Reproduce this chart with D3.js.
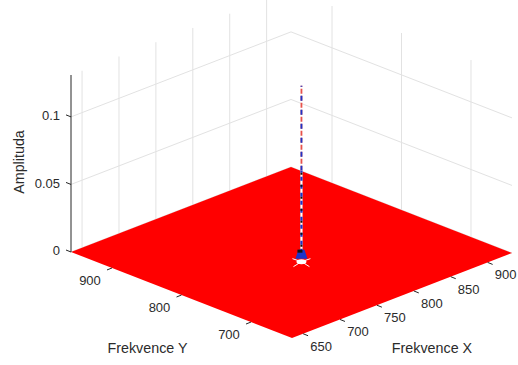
<!DOCTYPE html>
<html>
<head>
<meta charset="utf-8">
<script src="https://cdn.jsdelivr.net/npm/d3@7"></script>
<style>
  body { margin: 0; background: #fff; }
  text { font-family: "Liberation Sans", Arial, sans-serif; fill: #2b2b2b; }
</style>
</head>
<body>
<script>
// axis limits and ticks
const xLim = [635, 933];
const yLim = [641, 959];
const zLim = [0, 0.131];
const xTicks = [650, 700, 750, 800, 850, 900];
const yTicks = [700, 800, 900];
const zTicks = [0, 0.05, 0.1];
const zTickLabels = ['0', '0.05', '0.1'];

// spike of the spectrum
const peakX = [773];
const peakY = [774];
const peakZ = [0.131];

const width = 518;
const height = 365;

// normalized scales
const sx = d3.scaleLinear().domain(xLim).range([0, 1]);
const sy = d3.scaleLinear().domain(yLim).range([0, 1]);
const sz = d3.scaleLinear().domain(zLim).range([0, 177]);

// projection of the view (origin = corner xmin,ymin)
const origin = [292, 338];
const ex = [220, -85];
const ey = [-221, -86];

function P(x, y, z) {
  const u = sx(x), v = sy(y);
  return [origin[0] + u * ex[0] + v * ey[0], origin[1] + u * ex[1] + v * ey[1] - sz(z)];
}

const svg = d3.select('body').append('svg')
  .attr('width', width)
  .attr('height', height);

svg.append('rect').attr('width', width).attr('height', height).attr('fill', 'white');

const grid = svg.append('g')
  .attr('stroke', '#e2e2e2')
  .attr('stroke-width', 1)
  .attr('fill', 'none');

// back walls: vertical grid lines
xTicks.forEach(x => {
  const a = P(x, yLim[1], zLim[0]), b = P(x, yLim[1], zLim[1]);
  grid.append('line').attr('x1', a[0]).attr('y1', a[1]).attr('x2', b[0]).attr('y2', b[1]);
});
yTicks.forEach(y => {
  const a = P(xLim[1], y, zLim[0]), b = P(xLim[1], y, zLim[1]);
  grid.append('line').attr('x1', a[0]).attr('y1', a[1]).attr('x2', b[0]).attr('y2', b[1]);
});
// back walls: horizontal grid lines
zTicks.forEach(z => {
  const pts = [P(xLim[0], yLim[1], z), P(xLim[1], yLim[1], z), P(xLim[1], yLim[0], z)];
  grid.append('path').attr('d', d3.line()(pts));
});

// flat part of the surface
const floor = [P(xLim[0], yLim[0], 0), P(xLim[1], yLim[0], 0), P(xLim[1], yLim[1], 0), P(xLim[0], yLim[1], 0)];
svg.append('path')
  .attr('d', d3.line()(floor) + 'Z')
  .attr('fill', '#ff0000');

// z axis
const za = P(xLim[0], yLim[1], zLim[0]), zb = P(xLim[0], yLim[1], zLim[1]);
svg.append('line')
  .attr('x1', za[0]).attr('y1', za[1]).attr('x2', zb[0]).attr('y2', zb[1])
  .attr('stroke', '#262626').attr('stroke-width', 1);

zTicks.forEach((z, i) => {
  const p = P(xLim[0], yLim[1], z);
  svg.append('line')
    .attr('x1', p[0]).attr('y1', p[1]).attr('x2', p[0] - 5).attr('y2', p[1] - 2)
    .attr('stroke', '#262626');
  svg.append('text')
    .attr('x', p[0] - 11).attr('y', p[1])
    .attr('text-anchor', 'end')
    .attr('dominant-baseline', 'middle')
    .attr('font-size', 13)
    .text(zTickLabels[i]);
});

// y axis ticks (front-left edge)
yTicks.forEach(y => {
  const p = P(xLim[0], y, 0);
  svg.append('line')
    .attr('x1', p[0]).attr('y1', p[1]).attr('x2', p[0] - 5).attr('y2', p[1] + 2)
    .attr('stroke', '#262626');
  svg.append('text')
    .attr('x', p[0] - 22).attr('y', p[1] + 14)
    .attr('text-anchor', 'middle')
    .attr('dominant-baseline', 'middle')
    .attr('font-size', 13)
    .text(y);
});

// x axis ticks (front-right edge)
xTicks.forEach(x => {
  const p = P(x, yLim[0], 0);
  svg.append('line')
    .attr('x1', p[0]).attr('y1', p[1]).attr('x2', p[0] + 5).attr('y2', p[1] + 2)
    .attr('stroke', '#262626');
  svg.append('text')
    .attr('x', p[0] + 18).attr('y', p[1] + 13.5)
    .attr('text-anchor', 'middle')
    .attr('dominant-baseline', 'middle')
    .attr('font-size', 13)
    .text(x);
});

// axis labels
const ym = P(xLim[0], (yLim[0] + yLim[1]) / 2, 0);
svg.append('text')
  .attr('x', ym[0] - 34).attr('y', ym[1] + 54)
  .attr('text-anchor', 'middle').attr('dominant-baseline', 'middle')
  .attr('font-size', 14.3)
  .text('Frekvence Y');

const xm = P((xLim[0] + xLim[1]) / 2, yLim[0], 0);
svg.append('text')
  .attr('x', xm[0] + 30).attr('y', xm[1] + 53.5)
  .attr('text-anchor', 'middle').attr('dominant-baseline', 'middle')
  .attr('font-size', 14.3)
  .text('Frekvence X');

svg.append('text')
  .attr('transform', 'translate(20,162) rotate(-90)')
  .attr('text-anchor', 'middle').attr('dominant-baseline', 'middle')
  .attr('font-size', 14.3)
  .text('Amplituda');

// spike
const spike = svg.append('g');
peakX.forEach((px, i) => {
  const py = peakY[i], pz = peakZ[i];
  const base = P(px, py, 0);
  const mid = P(px, py, pz * 0.52);
  const top = P(px, py, pz);

  // white star at the base
  const star = [[-9, -4], [9, -4], [-8, 4], [8, 4]];
  star.forEach(d => {
    spike.append('line')
      .attr('x1', base[0]).attr('y1', base[1] - 1)
      .attr('x2', base[0] + d[0]).attr('y2', base[1] + d[1])
      .attr('stroke', '#fff').attr('stroke-width', 1);
  });
  spike.append('ellipse')
    .attr('cx', base[0]).attr('cy', base[1] - 1)
    .attr('rx', 5).attr('ry', 2.5)
    .attr('fill', '#fff');

  // upper part: red / blue dashes with small white gaps
  spike.append('line')
    .attr('x1', mid[0]).attr('y1', mid[1]).attr('x2', top[0]).attr('y2', top[1])
    .attr('stroke', '#e8524a').attr('stroke-width', 1.8)
    .attr('stroke-dasharray', '5 2');
  spike.append('line')
    .attr('x1', mid[0]).attr('y1', mid[1]).attr('x2', top[0]).attr('y2', top[1])
    .attr('stroke', '#1c34c8').attr('stroke-width', 1.8)
    .attr('stroke-dasharray', '5 9');

  // lower part: white / blue / black dashes
  spike.append('line')
    .attr('x1', base[0]).attr('y1', base[1] - 10).attr('x2', mid[0]).attr('y2', mid[1])
    .attr('stroke', '#fff').attr('stroke-width', 2.2);
  spike.append('line')
    .attr('x1', base[0]).attr('y1', base[1] - 10).attr('x2', mid[0]).attr('y2', mid[1])
    .attr('stroke', '#1c34c8').attr('stroke-width', 2.2)
    .attr('stroke-dasharray', '4 4');
  spike.append('line')
    .attr('x1', base[0]).attr('y1', base[1] - 10).attr('x2', mid[0]).attr('y2', mid[1])
    .attr('stroke', '#111').attr('stroke-width', 2)
    .attr('stroke-dasharray', '2 10')
    .attr('stroke-dashoffset', 6);

  // small blob at the base
  const blob = [[base[0] - 6, base[1] - 4], [base[0] + 6, base[1] - 4], [base[0] + 3, base[1] - 13], [base[0] - 3, base[1] - 13]];
  spike.append('path').attr('d', d3.line()(blob) + 'Z').attr('fill', '#1c34c8');
  spike.append('rect')
    .attr('x', base[0] - 4).attr('y', base[1] - 13).attr('width', 5).attr('height', 3)
    .attr('fill', '#111');
});
</script>
</body>
</html>
